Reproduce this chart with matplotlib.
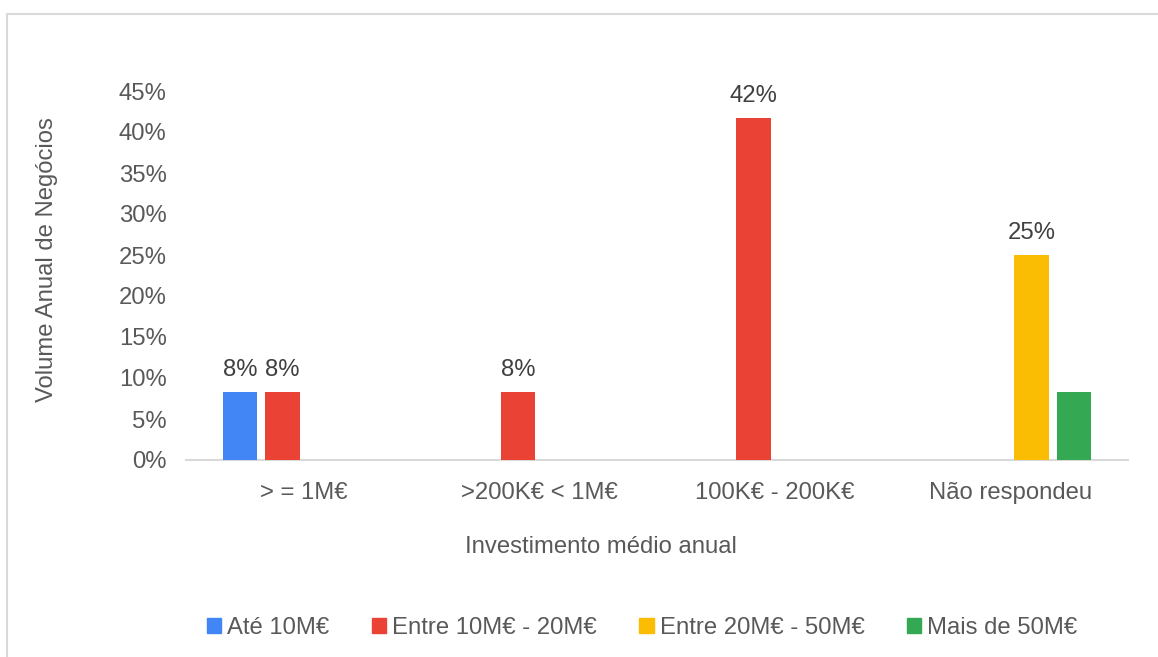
import matplotlib.pyplot as plt
import matplotlib.patches as mpatches
import numpy as np

plt.rcParams['font.family'] = ['Liberation Sans', 'DejaVu Sans']

categories = ['> = 1M€', '>200K€ < 1M€', '100K€ - 200K€', 'Não respondeu']
series_names = ['Até 10M€', 'Entre 10M€ - 20M€', 'Entre 20M€ - 50M€', 'Mais de 50M€']
series_colors = ['#4285F4', '#EA4335', '#FBBC04', '#34A853']

ate_10 = [0.0833, 0, 0, 0]
entre_10_20 = [0.0833, 0.0833, 0.4167, 0]
entre_20_50 = [0, 0, 0, 0.25]
mais_50 = [0, 0, 0, 0.0833]
series_values = [ate_10, entre_10_20, entre_20_50, mais_50]

# which bars carry a data label in the original
show_labels = [
    [True, False, False, False],
    [True, True, True, False],
    [False, False, False, True],
    [False, False, False, False],
]

TXT = '#595959'
FS = 17.2
fig = plt.figure(figsize=(11.58, 6.57), dpi=100)
ax = fig.add_axes([186 / 1158, 1 - 460 / 657, 942 / 1158, 369 / 657])

x = np.arange(len(categories))
pitch = 0.18
width = 0.145
for i, (vals, color) in enumerate(zip(series_values, series_colors)):
    offs = (i - 1.5) * pitch
    for j, v in enumerate(vals):
        if v <= 0:
            continue
        ax.bar(x[j] + offs, v, width=width, color=color, zorder=3)
        if show_labels[i][j]:
            ax.annotate(f'{v:.0%}', (x[j] + offs, v), xytext=(0, 8),
                        textcoords='offset points', ha='center', va='bottom',
                        fontsize=FS, color='#404040')

ax.set_xlim(-0.5, len(categories) - 0.5)
ax.set_ylim(0, 0.45)
ax.set_yticks(np.arange(0, 0.451, 0.05))
ax.set_yticklabels([f'{int(round(t * 100))}%' for t in np.arange(0, 0.451, 0.05)])
ax.set_xticks(x)
ax.set_xticklabels(categories)
ax.tick_params(axis='both', length=0, labelsize=FS, colors=TXT)
ax.tick_params(axis='x', pad=16)
ax.tick_params(axis='y', pad=14)
for s in ['top', 'right', 'left']:
    ax.spines[s].set_visible(False)
ax.spines['bottom'].set_color('#d9d9d9')
ax.spines['bottom'].set_linewidth(1.5)

fig.text(601 / 1158, 1 - 547 / 657, 'Investimento médio anual', ha='center', va='center',
         fontsize=FS, color=TXT)
fig.text(47 / 1158, 1 - 260 / 657, 'Volume Anual de Negócios', ha='center', va='center',
         rotation=90, fontsize=FS, color=TXT)

handles = [mpatches.Patch(color=c) for c in series_colors]
fig.legend(handles, series_names, loc='center', bbox_to_anchor=(642 / 1158, 1 - 628 / 657),
           ncol=4, frameon=False, fontsize=FS, labelcolor=TXT, handlelength=0.6,
           handleheight=0.6, handletextpad=0.25, columnspacing=1.78)

# outer chart border
fig.patches.append(mpatches.Rectangle((7 / 1158, -0.05), 1.1, 1 - 14 / 657 + 0.05,
                                      transform=fig.transFigure, fill=False,
                                      edgecolor='#d9d9d9', linewidth=1.5))

fig.savefig('out.png', dpi=100)
